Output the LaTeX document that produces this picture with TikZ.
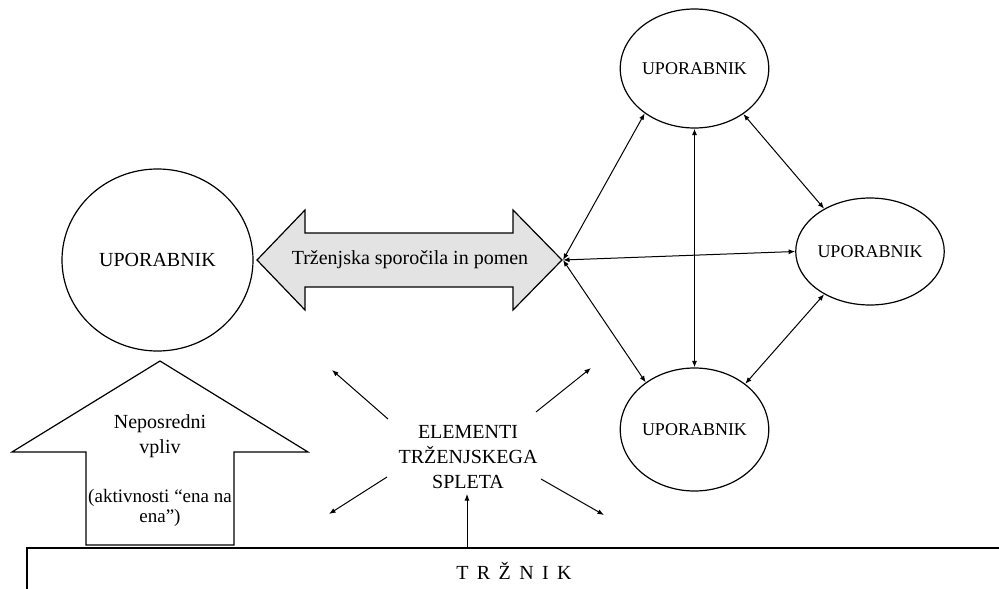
\documentclass[tikz,border=0pt]{standalone}
\usepackage{fontspec}
\setmainfont{Liberation Serif}
\usetikzlibrary{arrows.meta,shapes.geometric}
\begin{document}
\begin{tikzpicture}[x=1pt,y=-1pt,
  line width=1.2pt,
  user/.style={draw,ellipse,inner sep=0pt,font=\fontsize{18}{20}\selectfont},
  link/.style={line width=1pt,{Latex[length=6.5pt,width=5pt]}-{Latex[length=6.5pt,width=5pt]}},
  ray/.style={line width=1pt,-{Latex[length=6.5pt,width=5pt]}},
  lbl/.style={inner sep=0pt,align=center,font=\fontsize{20}{25}\selectfont}]
\useasboundingbox (0,0) rectangle (999,589);

% customers
\node[user,font=\fontsize{20}{22}\selectfont,minimum width=191pt,minimum height=182pt] (big) at (157.5,260) {UPORABNIK};
\node[user,minimum width=133pt,minimum height=119pt] (top) at (694.5,68.5) {UPORABNIK};
\node[user,minimum width=116pt,minimum height=107pt] (mid) at (870,251.5) {UPORABNIK};
\node[user,minimum width=133pt,minimum height=123pt] (bot) at (694.5,429.5) {UPORABNIK};

% two-way message arrow
\filldraw[fill=black!11] (257,260) -- (305,210) -- (305,233) -- (513,233) -- (513,210)
  -- (562,260) -- (513,310) -- (513,287) -- (305,287) -- (305,310) -- cycle;
\coordinate (tip) at (563,260);
\node[lbl] (msg) at (410,260) {Trženjska sporočila in pomen};

% links between customers
\draw[link] (tip) -- (top.222);
\draw[link] (tip) -- (bot.136);
\draw[link] (tip) -- (mid.west);
\draw[link] (top.south) -- (bot.north);
\draw[link] (top.317) -- (mid.137);
\draw[link] (mid.223) -- (bot.42);

% direct influence arrow
\draw (160,361) -- (308,452) -- (234,452) -- (234,545) -- (86,545) -- (86,452) -- (12,452) -- cycle;
\node[lbl] (direct) at (160,436) {Neposredni\\vpliv};
\node[lbl,font=\fontsize{19}{20}\selectfont] (oneone) at (160,508) {(aktivnosti “ena na\\ena”)};

% marketer
\draw (27,589) -- (27,548) -- (999,548);
\node[lbl] (marketer) at (514,571) {T\hspace{0.42em}R\hspace{0.42em}Ž\hspace{0.42em}N\hspace{0.42em}I\hspace{0.42em}K};

% marketing mix
\node[lbl] (mix) at (468,457) {ELEMENTI\\TRŽENJSKEGA\\SPLETA};
\coordinate (ulA) at (388,419); \coordinate (ulB) at (332,370);
\coordinate (urA) at (536,412); \coordinate (urB) at (591,368);
\coordinate (llA) at (387,477); \coordinate (llB) at (329,514);
\coordinate (lrA) at (541,479); \coordinate (lrB) at (604,515);
\coordinate (upA) at (467,548); \coordinate (upB) at (467,494);
\draw[ray] (ulA) -- (ulB);
\draw[ray] (urA) -- (urB);
\draw[ray] (llA) -- (llB);
\draw[ray] (lrA) -- (lrB);
\draw[ray] (upA) -- (upB);
\end{tikzpicture}
\end{document}
